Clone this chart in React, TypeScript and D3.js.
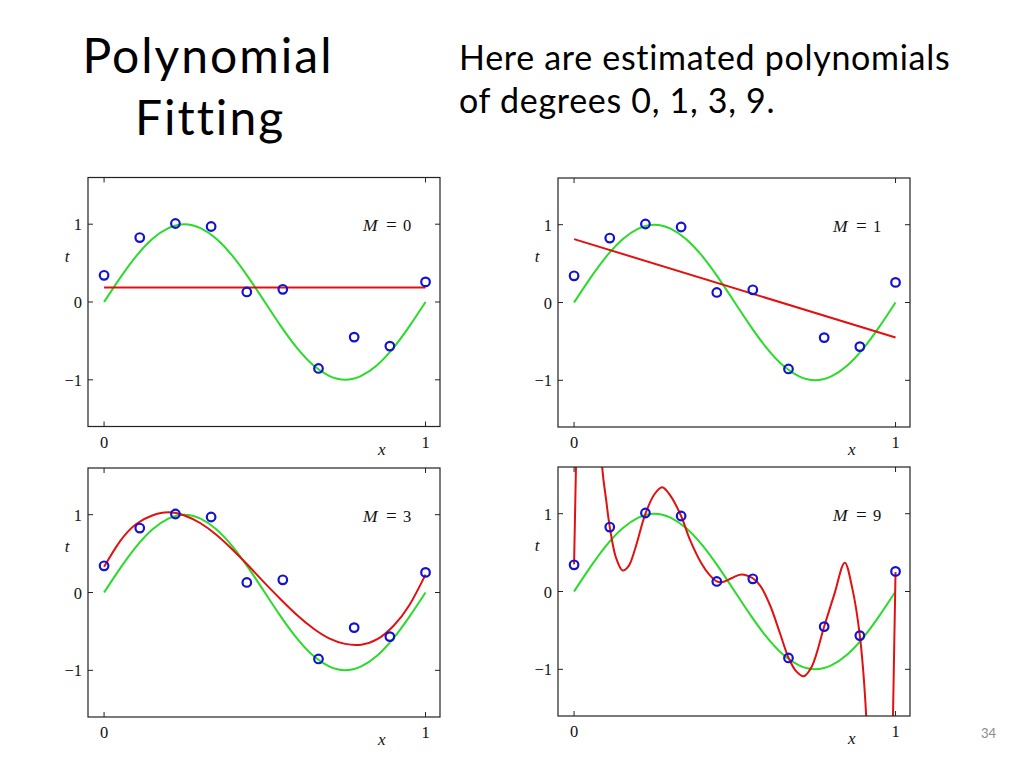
import * as d3 from "d3";

// observed data points (blue circles)
const pointX = [0, 0.111, 0.222, 0.333, 0.444, 0.556, 0.667, 0.778, 0.889, 1];
const pointT = [0.343, 0.828, 1.009, 0.97, 0.129, 0.163, -0.854, -0.451, -0.567, 0.258];

// true curve (green)
const trueX = [0, 0.05, 0.1, 0.15, 0.2, 0.25, 0.3, 0.35, 0.4, 0.45, 0.5, 0.55, 0.6, 0.65, 0.7, 0.75, 0.8, 0.85, 0.9, 0.95, 1];
const trueT = [0, 0.31, 0.59, 0.81, 0.95, 1, 0.95, 0.81, 0.59, 0.31, 0, -0.31, -0.59, -0.81, -0.95, -1, -0.95, -0.81, -0.59, -0.31, 0];

// fitted polynomials (red)
const fit0X = [0, 1];
const fit0T = [0.185, 0.185];

const fit1X = [0, 1];
const fit1T = [0.815, -0.45];

const fit3X = [0, 0.05, 0.1, 0.15, 0.2, 0.25, 0.3, 0.35, 0.4, 0.45, 0.5, 0.55, 0.6, 0.65, 0.7, 0.75, 0.8, 0.85, 0.9, 0.95, 1];
const fit3T = [0.33, 0.66, 0.88, 0.99, 1.03, 0.99, 0.89, 0.74, 0.55, 0.34, 0.12, -0.09, -0.29, -0.46, -0.59, -0.66, -0.67, -0.6, -0.43, -0.16, 0.23];

const fit9X = [0, 0.006, 0.02, 0.045, 0.07, 0.087, 0.1, 0.111, 0.13, 0.151, 0.17, 0.19, 0.222, 0.25, 0.274, 0.3, 0.333, 0.36, 0.395, 0.42, 0.444, 0.46, 0.49, 0.52, 0.556, 0.58, 0.61, 0.64, 0.667, 0.69, 0.714, 0.74, 0.778, 0.81, 0.842, 0.865, 0.889, 0.909, 0.93, 0.955, 0.98, 0.992, 1];
const fit9T = [0.35, 1.62, 4.5, 6.0, 3.8, 1.62, 1.17, 0.83, 0.44, 0.27, 0.33, 0.55, 1.0, 1.25, 1.34, 1.23, 0.97, 0.67, 0.37, 0.22, 0.13, 0.12, 0.17, 0.22, 0.17, 0.07, -0.18, -0.53, -0.85, -1.02, -1.09, -0.96, -0.45, -0.03, 0.37, 0.05, -0.57, -1.62, -4.5, -6, -4.5, -1.62, 0.25];

const degrees = [0, 1, 3, 9];
const xTicks = [0, 1];
const yTicks = [-1, 0, 1];
const yTickLabels = ["\u22121", "0", "1"];

const W = 352;
const H = 249;
const GREEN = "#2adb2a";
const RED = "#e31010";
const BLUE = "#1212d0";
const serif = "'Liberation Serif', 'Times New Roman', serif";

type PanelProps = {
  id: string;
  left: number;
  top: number;
  degree: number;
  fx: number[];
  ft: number[];
  curve: d3.CurveFactory;
};

function Panel({ id, left, top, degree, fx, ft, curve }: PanelProps) {
  const xs = d3.scaleLinear().domain([-0.05, 1.045]).range([0, W]);
  const ys = d3.scaleLinear().domain([-1.6, 1.6]).range([H, 0]);

  const line = d3
    .line<[number, number]>()
    .x((d) => xs(d[0]))
    .y((d) => ys(d[1]));

  const truePath = line.curve(d3.curveNatural)(trueX.map((x, i) => [x, trueT[i]]));
  const fitPath = line.curve(curve)(fx.map((x, i) => [x, ft[i]]));
  const labelY = ys(1) + 7;

  return (
    <g transform={`translate(${left},${top})`}>
      <defs>
        <clipPath id={id}>
          <rect x={0} y={0} width={W} height={H} />
        </clipPath>
      </defs>
      <g clipPath={`url(#${id})`}>
        <path d={truePath ?? ""} fill="none" stroke={GREEN} strokeWidth={2} />
        <path d={fitPath ?? ""} fill="none" stroke={RED} strokeWidth={2} />
        {pointX.map((x, i) => (
          <circle key={i} cx={xs(x)} cy={ys(pointT[i])} r={4.3} fill="none" stroke={BLUE} strokeWidth={2.2} />
        ))}
      </g>
      <rect x={0} y={0} width={W} height={H} fill="none" stroke="#222" strokeWidth={1.2} />
      {xTicks.map((v) => (
        <g key={`x${v}`}>
          <line x1={xs(v)} x2={xs(v)} y1={H} y2={H - 5} stroke="#222" strokeWidth={1} />
          <line x1={xs(v)} x2={xs(v)} y1={0} y2={5} stroke="#222" strokeWidth={1} />
          <text x={xs(v)} y={H + 21} textAnchor="middle" fontFamily={serif} fontSize={16.5} fill="#111">
            {v}
          </text>
        </g>
      ))}
      {yTicks.map((v, i) => (
        <g key={`y${v}`}>
          <line x1={0} x2={5} y1={ys(v)} y2={ys(v)} stroke="#222" strokeWidth={1} />
          <line x1={W} x2={W - 5} y1={ys(v)} y2={ys(v)} stroke="#222" strokeWidth={1} />
          <text x={-6} y={ys(v) + 6} textAnchor="end" fontFamily={serif} fontSize={16.5} fill="#111">
            {yTickLabels[i]}
          </text>
        </g>
      ))}
      <text x={xs(0.864)} y={H + 28} textAnchor="middle" fontFamily={serif} fontStyle="italic" fontSize={17} fill="#111">
        x
      </text>
      <text x={-21} y={ys(0.52)} textAnchor="middle" fontFamily={serif} fontStyle="italic" fontSize={17} fill="#111">
        t
      </text>
      <g fontFamily={serif} fontSize={16.5} fill="#111">
        <text x={W - 77} y={labelY} fontStyle="italic" fontSize={17.5}>M</text>
        <text x={W - 54} y={labelY} fontSize={19}>=</text>
        <text x={W - 37} y={labelY}>{degree}</text>
      </g>
    </g>
  );
}

export default function App() {
  const fits = [
    { fx: fit0X, ft: fit0T, curve: d3.curveLinear },
    { fx: fit1X, ft: fit1T, curve: d3.curveLinear },
    { fx: fit3X, ft: fit3T, curve: d3.curveNatural },
    { fx: fit9X, ft: fit9T, curve: d3.curveCatmullRom.alpha(0.5) },
  ];
  const spots = [
    { left: 88, top: 177.5 },
    { left: 558, top: 178 },
    { left: 88, top: 468 },
    { left: 558, top: 467 },
  ];
  const sans = "Lato, 'Open Sans', sans-serif";
  const noLig = { fontVariantLigatures: "none" as const };

  return (
    <svg
      width={1024}
      height={768}
      style={{ position: "absolute", left: 0, top: 0, background: "#fff" }}
    >
      <rect width={1024} height={768} fill="#fff" />
      <g fontFamily={sans} fill="#000" style={noLig}>
        <text x={208} y={73} textAnchor="middle" fontSize={48} letterSpacing={2}>
          Polynomial
        </text>
        <text x={210} y={135} textAnchor="middle" fontSize={48} letterSpacing={2}>
          Fitting
        </text>
        <text x={459} y={70} fontSize={34} letterSpacing={0.7}>
          Here are estimated polynomials
        </text>
        <text x={459} y={113} fontSize={34} letterSpacing={0.7}>
          of degrees 0, 1, 3, 9.
        </text>
      </g>
      {degrees.map((m, i) => (
        <Panel key={m} id={`clip${m}`} degree={m} {...spots[i]} {...fits[i]} />
      ))}
      <text x={996} y={738} textAnchor="end" fontFamily={sans} fontSize={13} fill="#8a8a8a">
        34
      </text>
    </svg>
  );
}
